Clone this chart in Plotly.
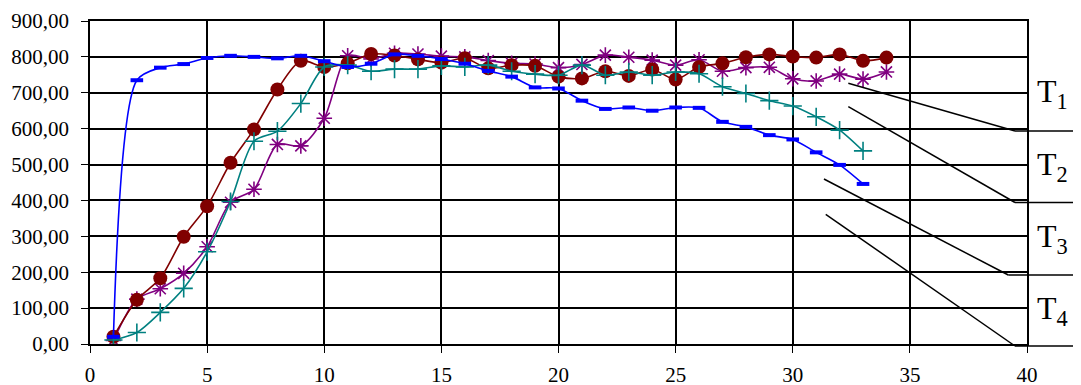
import plotly.graph_objects as go

x_blue = list(range(1, 34))
y_blue = [20, 735, 770, 780, 797, 803, 800, 796, 803, 788, 772, 781, 807, 803, 794, 781,
          761, 745, 715, 712, 678, 655, 659, 650, 659, 658, 619, 605, 582, 570, 534, 499, 446]

x_red = list(range(1, 35))
y_red = [20, 123, 183, 299, 384, 505, 598, 709, 789, 772, 782, 808, 804, 793, 784, 796,
         768, 777, 775, 745, 740, 760, 747, 765, 737, 772, 782, 799, 807, 801, 798, 807, 789, 798]

x_teal = list(range(1, 34))
y_teal = [11, 32, 88, 155, 257, 397, 565, 593, 670, 772, 777, 760, 766, 766, 775, 772,
          777, 760, 752, 749, 777, 749, 758, 749, 758, 753, 717, 698, 678, 663, 633, 596, 538]

x_purple = list(range(1, 35))
y_purple = [10, 125, 154, 197, 271, 395, 431, 556, 552, 629, 803, 794, 810, 808, 802, 800,
            790, 782, 780, 770, 779, 805, 799, 791, 777, 792, 760, 770, 771, 739, 733, 752, 738, 758]

legend_labels = ["T<sub>1</sub>", "T<sub>2</sub>", "T<sub>3</sub>", "T<sub>4</sub>"]

fig = go.Figure()

fig.add_trace(go.Scatter(
    x=x_purple, y=y_purple, mode="lines+markers",
    line=dict(color="#800080", width=1.6, shape="spline", smoothing=0.8),
    marker=dict(symbol="asterisk", size=13, color="#800080",
                line=dict(color="#800080", width=1.6)),
))
fig.add_trace(go.Scatter(
    x=x_red, y=y_red, mode="lines+markers",
    line=dict(color="#800000", width=1.6, shape="spline", smoothing=0.8),
    marker=dict(symbol="circle", size=14, color="#800000"),
))
fig.add_trace(go.Scatter(
    x=x_teal, y=y_teal, mode="lines+markers",
    line=dict(color="#008080", width=1.6, shape="spline", smoothing=0.8),
    marker=dict(symbol="cross-thin", size=13, color="#008080",
                line=dict(color="#008080", width=1.6)),
))
fig.add_trace(go.Scatter(
    x=x_blue, y=y_blue, mode="lines+markers",
    line=dict(color="#0000FF", width=1.6, shape="spline", smoothing=0.8),
    marker=dict(symbol="line-ew", size=9, color="#0000FF",
                line=dict(color="#0000FF", width=4)),
))

# leader lines and separators of the legend block at the right
leaders = [
    (0.8093, 0.807, 0.9872, 0.6594),
    (0.8093, 0.7347, 0.9872, 0.4381),
    (0.7833, 0.5108, 0.98, 0.2136),
    (0.7852, 0.4015, 0.9872, -0.0062),
]
for x0, y0, x1, y1 in leaders:
    fig.add_shape(type="line", xref="paper", yref="paper", x0=x0, y0=y0, x1=x1, y1=y1,
                  line=dict(color="black", width=1.5))
    fig.add_shape(type="line", xref="paper", yref="paper", x0=x1, y0=y1, x1=1.06, y1=y1,
                  line=dict(color="black", width=1.5))

for lab, yp in zip(legend_labels, [0.777, 0.551, 0.328, 0.105]):
    fig.add_annotation(text=lab, xref="paper", yref="paper", x=1.0267, y=yp,
                       showarrow=False, xanchor="center", yanchor="middle",
                       font=dict(family="Liberation Serif", size=32, color="black"))

# the page body has an 8px margin, so the figure is 8px smaller than the window
fig.update_layout(
    width=1073, height=377,
    margin=dict(l=82, r=54, t=13, b=41),
    paper_bgcolor="white", plot_bgcolor="white",
    showlegend=False,
    separators=", ",
    font=dict(family="Liberation Serif", size=21, color="black"),
)
fig.update_xaxes(range=[0, 40], dtick=5, tick0=0, showgrid=True, gridcolor="black", gridwidth=1.5,
                 showline=True, linecolor="black", linewidth=1.5, mirror=True,
                 ticks="outside", ticklen=7, tickcolor="black", ticklabelstandoff=4,
                 zeroline=False, automargin=False)
fig.update_yaxes(range=[0, 900], dtick=100, tick0=0, tickformat=".2f",
                 showgrid=True, gridcolor="black", gridwidth=1.5,
                 showline=True, linecolor="black", linewidth=1.5, mirror=True,
                 ticks="outside", ticklen=7, tickcolor="black", ticklabelstandoff=8,
                 zeroline=False, automargin=False)

fig.write_html("out.html")
